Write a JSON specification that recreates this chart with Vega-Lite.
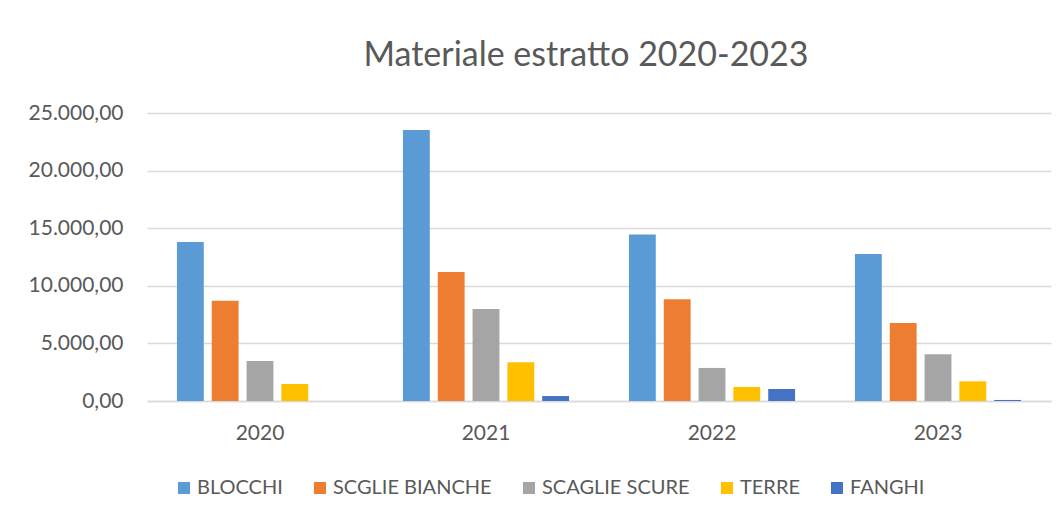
{
  "$schema": "https://vega.github.io/schema/vega-lite/v6.json",
  "width": 904,
  "height": 288,
  "autosize": "none",
  "padding": {"left": 147, "top": 113, "right": 13, "bottom": 111},
  "background": "white",
  "title": {
    "text": "Materiale estratto 2020-2023",
    "font": "Lato",
    "fontSize": 34,
    "fontWeight": "normal",
    "color": "#595959",
    "baseline": "alphabetic",
    "offset": 2,
    "dx": -13
  },
  "data": {
    "values": [
      {"anno": "2020", "materiale": "BLOCCHI", "valore": 13810},
      {"anno": "2020", "materiale": "SCGLIE BIANCHE", "valore": 8710},
      {"anno": "2020", "materiale": "SCAGLIE SCURE", "valore": 3470},
      {"anno": "2020", "materiale": "TERRE", "valore": 1480},
      {"anno": "2020", "materiale": "FANGHI", "valore": 0},
      {"anno": "2021", "materiale": "BLOCCHI", "valore": 23520},
      {"anno": "2021", "materiale": "SCGLIE BIANCHE", "valore": 11200},
      {"anno": "2021", "materiale": "SCAGLIE SCURE", "valore": 7990},
      {"anno": "2021", "materiale": "TERRE", "valore": 3360},
      {"anno": "2021", "materiale": "FANGHI", "valore": 430},
      {"anno": "2022", "materiale": "BLOCCHI", "valore": 14450},
      {"anno": "2022", "materiale": "SCGLIE BIANCHE", "valore": 8830},
      {"anno": "2022", "materiale": "SCAGLIE SCURE", "valore": 2870},
      {"anno": "2022", "materiale": "TERRE", "valore": 1220},
      {"anno": "2022", "materiale": "FANGHI", "valore": 1040},
      {"anno": "2023", "materiale": "BLOCCHI", "valore": 12770},
      {"anno": "2023", "materiale": "SCGLIE BIANCHE", "valore": 6780},
      {"anno": "2023", "materiale": "SCAGLIE SCURE", "valore": 4060},
      {"anno": "2023", "materiale": "TERRE", "valore": 1710},
      {"anno": "2023", "materiale": "FANGHI", "valore": 90}
    ]
  },
  "mark": {"type": "bar"},
  "encoding": {
    "x": {
      "field": "anno",
      "type": "nominal",
      "scale": {"paddingInner": 0.265, "paddingOuter": 0.1325},
      "axis": {
        "title": null,
        "labelAngle": 0,
        "labelFont": "Lato",
        "labelFontSize": 21,
        "labelColor": "#595959",
        "labelPadding": 21,
        "ticks": false,
        "tickSize": 0,
        "domainColor": "#d9d9d9",
        "domainWidth": 1.5
      }
    },
    "xOffset": {
      "field": "materiale",
      "type": "nominal",
      "sort": ["BLOCCHI", "SCGLIE BIANCHE", "SCAGLIE SCURE", "TERRE", "FANGHI"],
      "scale": {"paddingInner": 0.229, "paddingOuter": 0}
    },
    "y": {
      "field": "valore",
      "type": "quantitative",
      "scale": {"domain": [0, 25000], "nice": false},
      "axis": {
        "title": null,
        "values": [0, 5000, 10000, 15000, 20000, 25000],
        "format": ",.2f",
        "labelFont": "Lato",
        "labelFontSize": 21,
        "labelColor": "#595959",
        "labelPadding": 24,
        "ticks": false,
        "tickSize": 0,
        "domain": false,
        "grid": true,
        "gridColor": "#d9d9d9",
        "gridWidth": 1.5
      }
    },
    "color": {
      "field": "materiale",
      "type": "nominal",
      "sort": ["BLOCCHI", "SCGLIE BIANCHE", "SCAGLIE SCURE", "TERRE", "FANGHI"],
      "scale": {
        "domain": ["BLOCCHI", "SCGLIE BIANCHE", "SCAGLIE SCURE", "TERRE", "FANGHI"],
        "range": ["#5B9BD5", "#ED7D31", "#A5A5A5", "#FFC000", "#4472C4"]
      },
      "legend": {
        "title": null,
        "orient": "none",
        "direction": "horizontal",
        "legendX": 27,
        "legendY": 365,
        "padding": 0,
        "symbolType": "square",
        "symbolSize": 144,
        "symbolStrokeWidth": 0,
        "labelFont": "Lato",
        "labelFontSize": 20,
        "labelColor": "#595959",
        "labelOffset": 3,
        "columnPadding": 27,
        "labelLimit": 300
      }
    }
  },
  "config": {
    "view": {"stroke": null},
    "locale": {
      "number": {"decimal": ",", "thousands": ".", "grouping": [3], "currency": ["", " €"]}
    }
  }
}
